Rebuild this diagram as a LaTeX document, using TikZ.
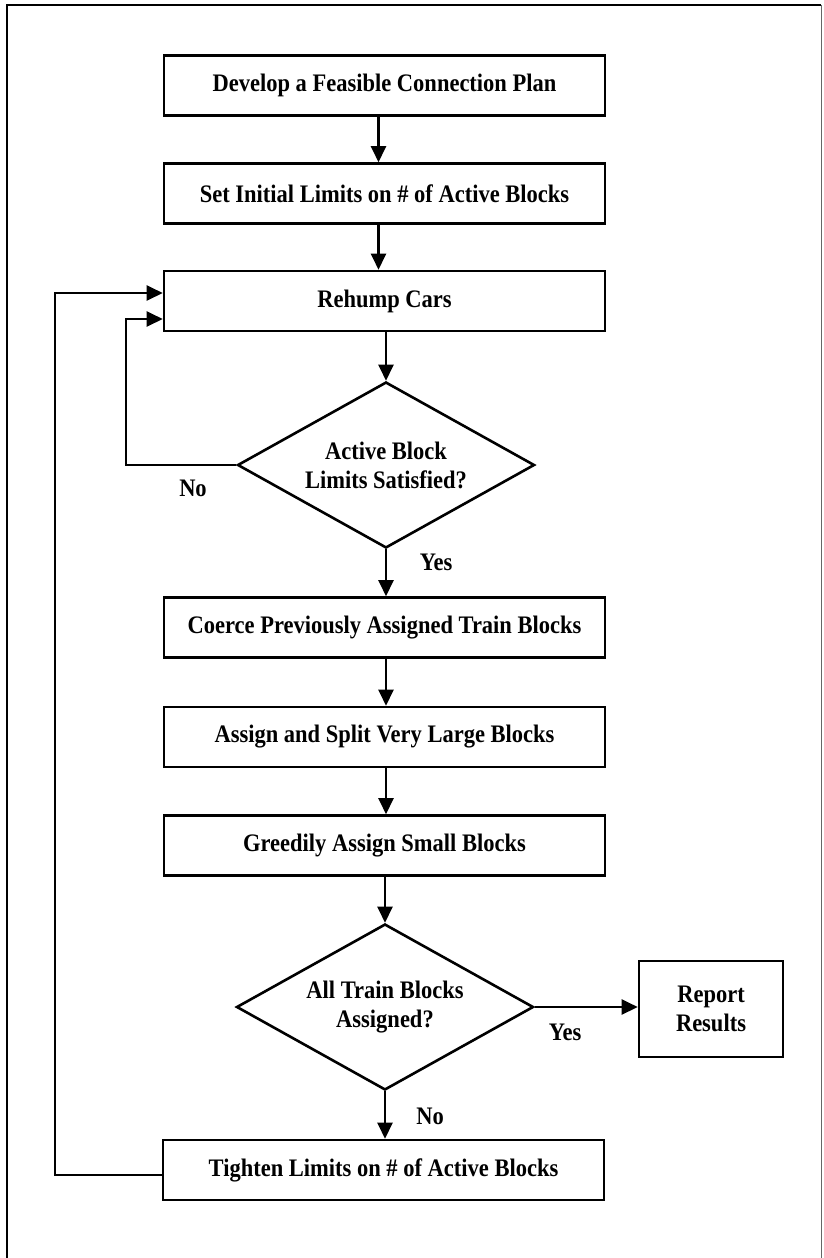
\documentclass[tikz,border=0pt]{standalone}
\usepackage{fontspec}
\setmainfont{Liberation Serif}
\usetikzlibrary{arrows.meta,shapes.geometric}
\newcommand{\vs}[1]{\scalebox{1}[1.12]{#1}}
\tikzset{
  box/.style={draw, line width=2.6pt, minimum width=441pt, minimum height=60pt, inner sep=0pt,
    font=\fontsize{22.5}{29}\selectfont\bfseries},
  smallbox/.style={draw, line width=2.6pt, minimum width=144pt, minimum height=96pt, inner sep=0pt, align=center,
    font=\fontsize{22.5}{29}\selectfont\bfseries},
  decision/.style={draw, diamond, line width=2.6pt, aspect=1.8, inner sep=0pt, align=center,
    minimum width=297pt, minimum height=166pt, font=\fontsize{22.5}{29}\selectfont\bfseries},
  conn/.style={line width=2.4pt, -{Triangle[length=16pt,width=15pt]}},
  lbl/.style={font=\fontsize{22.5}{29}\selectfont\bfseries, inner sep=0pt},
}
\begin{document}
\begin{tikzpicture}[x=1pt,y=-1pt]
\useasboundingbox (0,0) rectangle (823,1258);
% frame
\draw[line width=1.8pt] (7,1258) -- (7,5) -- (821,5);
\draw[line width=1pt, black!60] (821,5) -- (821,1258);
% nodes
\node[box] (b1) at (384.5,85.5) {\vs{Develop a Feasible Connection Plan}};
\node[box] (b2) at (384.5,193.5) {\vs{Set Initial Limits on \# of Active Blocks}};
\node[box] (b3) at (384.5,301) {\vs{Rehump Cars}};
\node[decision] (d1) at (386,465) {\vs{Active Block}\\\vs{Limits Satisfied?}};
\node[box] (b4) at (384.5,627.5) {\vs{Coerce Previously Assigned Train Blocks}};
\node[box] (b5) at (384.5,737) {\vs{Assign and Split Very Large Blocks}};
\node[box] (b6) at (384.5,845.5) {\vs{Greedily Assign Small Blocks}};
\node[decision] (d2) at (385,1007) {\vs{All Train Blocks}\\\vs{Assigned?}};
\node[smallbox] (rep) at (711,1009) {\vs{Report}\\\vs{Results}};
\node[box] (b7) at (383.5,1170) {\vs{Tighten Limits on \# of Active Blocks}};
% connectors
\draw[conn] ([xshift=-6pt]b1.south) -- ([xshift=-6pt]b2.north);
\draw[conn] ([xshift=-6pt]b2.south) -- ([xshift=-6pt]b3.north);
\draw[conn] (b3.south -| d1.north) -- (d1.north);
\draw[conn] (d1.west) -- ++(-110,0) |- (b3.west |- 0,319);
\draw[conn] (d1.south) -- (b4.north -| d1.south);
\draw[conn] (b4.south -| d1.south) -- (b5.north -| d1.south);
\draw[conn] (b5.south -| d1.south) -- (b6.north -| d1.south);
\draw[conn] (b6.south -| d2.north) -- (d2.north);
\draw[conn] (d2.east) -- (rep.west |- d2.east);
\draw[conn] (d2.south) -- (b7.north -| d2.south);
\draw[conn] (b7.west |- 0,1175) -- (55,1175) |- (b3.west |- 0,293);
% labels
\node[lbl] (no1) at (193,488) {\vs{No}};
\node[lbl] (yes1) at (436,562) {\vs{Yes}};
\node[lbl] (yes2) at (565,1032) {\vs{Yes}};
\node[lbl] (no2) at (430,1116) {\vs{No}};
\end{tikzpicture}
\end{document}
